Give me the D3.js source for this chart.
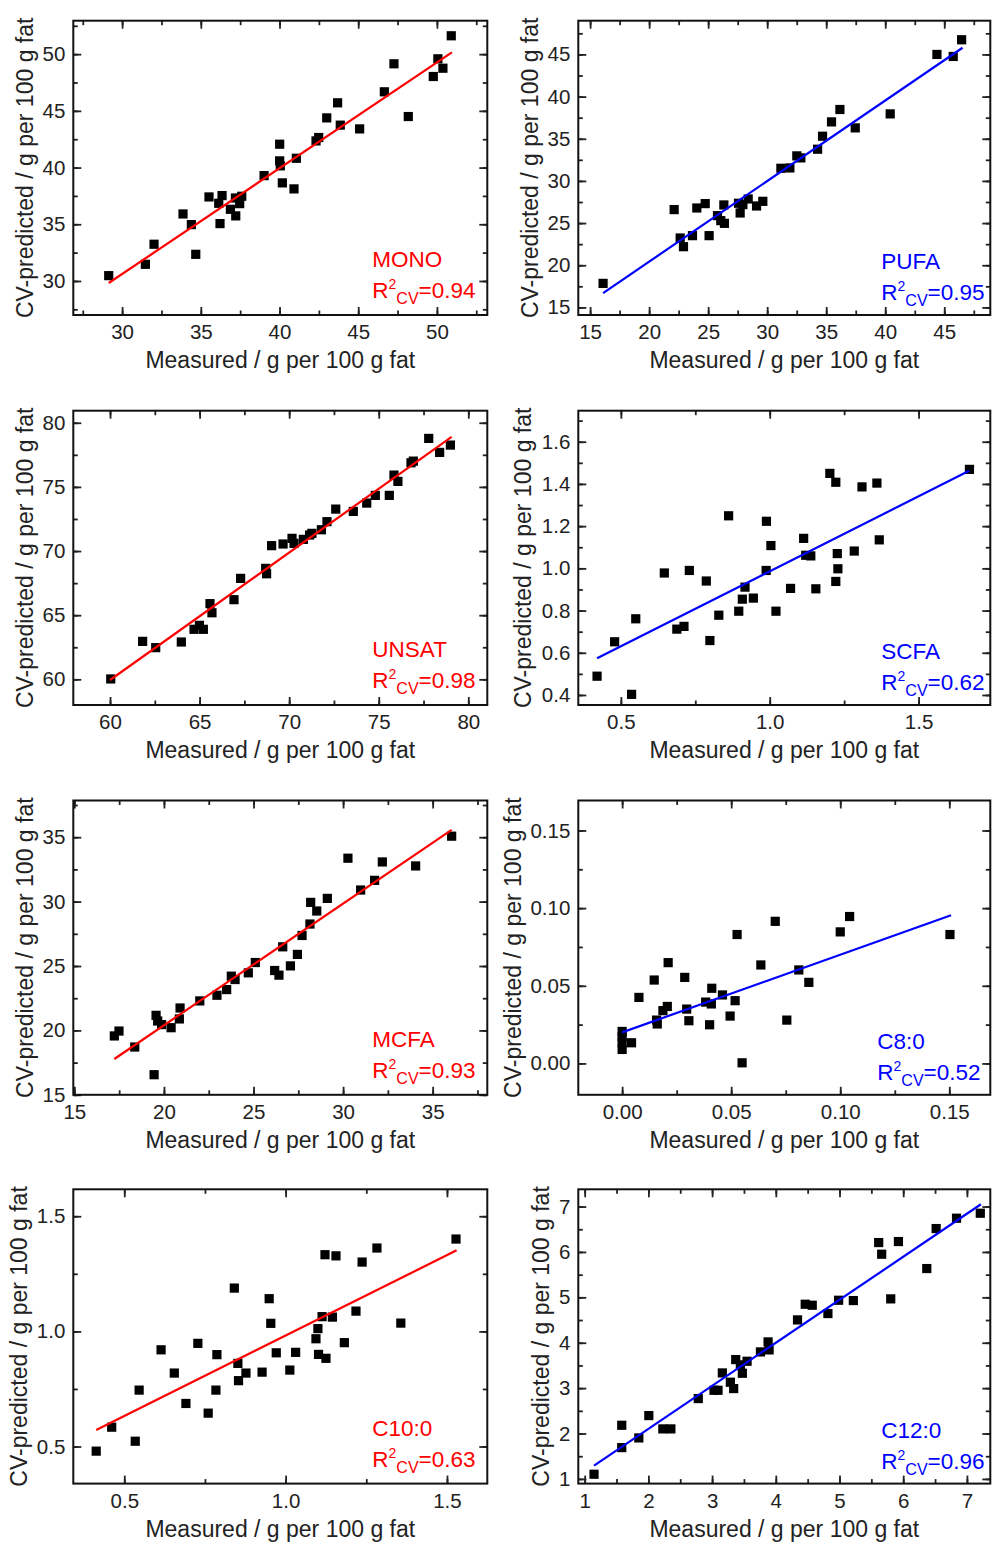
<!DOCTYPE html>
<html>
<head>
<meta charset="utf-8">
<script src="https://cdn.jsdelivr.net/npm/d3@7"></script>
<style>
  body { margin: 0; background: #fff; }
  svg text { font-family: Arial, "Liberation Sans", sans-serif; fill: #222; }
</style>
</head>
<body>
<div id="chart"></div>
<script>
// MONO
const monoX = [29.15, 31.48, 32.03, 33.87, 34.40, 34.68, 35.52, 36.14, 36.35, 36.22, 36.88, 37.22, 37.20, 37.47, 37.60, 39.02, 40.01, 40.01, 40.05, 40.18, 40.92, 41.07, 42.32, 42.49, 43.00, 43.69, 43.86, 45.09, 46.66, 47.27, 48.18, 49.77, 50.06, 50.38, 50.91];
const monoY = [30.47, 31.47, 33.24, 35.91, 34.97, 32.35, 37.41, 36.85, 37.53, 35.06, 36.32, 35.74, 37.32, 36.82, 37.47, 39.29, 42.06, 40.59, 40.15, 38.65, 38.12, 40.82, 42.35, 42.65, 44.38, 45.71, 43.74, 43.41, 46.68, 49.15, 44.50, 48.03, 49.59, 48.76, 51.62];
const monoFitX = [29.15, 50.95];
const monoFitY = [29.82, 50.15];

// PUFA
const pufaX = [16.1, 22.12, 22.63, 22.91, 23.67, 24.04, 24.75, 25.08, 25.79, 26.07, 26.33, 26.38, 27.57, 27.71, 27.94, 28.39, 29.1, 29.63, 31.16, 31.92, 32.51, 32.85, 34.27, 34.69, 35.45, 36.16, 37.46, 40.42, 44.38, 45.76, 46.47];
const pufaY = [17.85, 26.6, 23.23, 22.2, 23.51, 26.79, 27.31, 23.51, 25.88, 25.29, 27.15, 24.97, 27.35, 26.2, 27.19, 27.86, 27.03, 27.58, 31.5, 31.54, 32.97, 32.73, 33.76, 35.3, 37.0, 38.47, 36.29, 37.95, 45.0, 44.76, 46.74];
const pufaFitX = [16.1, 46.55];
const pufaFitY = [16.7, 45.79];

// UNSAT
const unsatX = [60.04, 61.82, 62.55, 63.98, 64.69, 64.99, 65.21, 65.58, 65.69, 66.92, 67.29, 68.69, 68.74, 69.02, 69.66, 70.16, 70.27, 70.79, 71.14, 71.27, 71.8, 72.11, 72.6, 73.58, 74.33, 74.81, 75.59, 75.85, 76.07, 76.8, 76.93, 77.79, 78.4, 79.0];
const unsatY = [60.03, 62.96, 62.47, 62.91, 63.9, 64.21, 63.9, 65.9, 65.19, 66.21, 67.87, 68.65, 68.23, 70.42, 70.55, 70.99, 70.6, 70.91, 71.25, 71.38, 71.66, 72.29, 73.27, 73.09, 73.74, 74.34, 74.34, 75.92, 75.43, 76.88, 77.01, 78.78, 77.69, 78.26];
const unsatFitX = [60.0, 79.07];
const unsatFitY = [59.95, 78.9];

// SCFA
const scfaX = [0.42, 0.479, 0.536, 0.55, 0.646, 0.688, 0.712, 0.73, 0.787, 0.799, 0.829, 0.862, 0.896, 0.908, 0.917, 0.945, 0.989, 0.988, 1.004, 1.021, 1.07, 1.114, 1.121, 1.138, 1.155, 1.202, 1.222, 1.222, 1.227, 1.229, 1.284, 1.31, 1.36, 1.368, 1.671];
const scfaY = [0.489, 0.652, 0.403, 0.761, 0.978, 0.712, 0.725, 0.99, 0.94, 0.658, 0.778, 1.249, 0.797, 0.854, 0.911, 0.859, 1.223, 0.99, 1.108, 0.797, 0.905, 1.142, 1.062, 1.059, 0.903, 1.45, 1.408, 0.938, 1.07, 0.998, 1.082, 1.386, 1.404, 1.135, 1.469];
const scfaFitX = [0.42, 1.67];
const scfaFitY = [0.574, 1.462];

// MCFA
const mcfaX = [17.23, 17.49, 18.37, 19.45, 19.56, 19.65, 19.87, 20.4, 20.86, 20.9, 22.0, 22.96, 23.5, 23.76, 23.97, 24.71, 25.1, 26.18, 26.42, 26.63, 27.06, 27.45, 27.71, 28.15, 28.19, 28.53, 29.12, 30.27, 30.98, 31.76, 32.19, 34.05, 36.06];
const mcfaY = [19.57, 19.95, 18.71, 16.56, 21.17, 20.73, 20.45, 20.21, 20.89, 21.74, 22.29, 22.73, 23.17, 24.21, 23.95, 24.47, 25.27, 24.65, 24.29, 26.49, 25.01, 25.9, 27.37, 28.26, 29.94, 29.27, 30.25, 33.37, 30.9, 31.65, 33.08, 32.77, 35.08];
const mcfaFitX = [17.23, 36.06];
const mcfaFitY = [17.78, 35.57];

// C8:0
const c8X = [0, 0, 0, 0, 0.0043, 0.0077, 0.0147, 0.0158, 0.0161, 0.0187, 0.0207, 0.0211, 0.0287, 0.0296, 0.0306, 0.0383, 0.0401, 0.0409, 0.0411, 0.046, 0.0495, 0.0518, 0.0527, 0.055, 0.0636, 0.0702, 0.0755, 0.081, 0.0856, 0.1, 0.1043, 0.1503];
const c8Y = [0.0206, 0.0172, 0.0133, 0.009, 0.0133, 0.0425, 0.0537, 0.0279, 0.0254, 0.034, 0.0367, 0.0649, 0.0554, 0.035, 0.0275, 0.0395, 0.0249, 0.0383, 0.0484, 0.0441, 0.0305, 0.0404, 0.083, 0.0004, 0.0634, 0.0915, 0.0279, 0.0602, 0.0522, 0.0847, 0.0946, 0.083];
const c8FitX = [0, 0.1508];
const c8FitY = [0.02, 0.0954];

// C10:0
const c10X = [0.413, 0.461, 0.534, 0.546, 0.614, 0.655, 0.691, 0.728, 0.76, 0.784, 0.787, 0.841, 0.852, 0.854, 0.877, 0.927, 0.949, 0.954, 0.971, 1.013, 1.031, 1.094, 1.1, 1.102, 1.113, 1.122, 1.125, 1.145, 1.156, 1.182, 1.218, 1.237, 1.283, 1.357, 1.528];
const c10Y = [0.48, 0.584, 0.523, 0.745, 0.92, 0.819, 0.687, 0.948, 0.645, 0.745, 0.899, 1.188, 0.861, 0.786, 0.819, 0.823, 1.142, 1.035, 0.907, 0.832, 0.909, 0.968, 1.012, 0.9, 1.064, 1.333, 0.883, 1.062, 1.328, 0.951, 1.088, 1.301, 1.362, 1.036, 1.401];
const c10FitX = [0.413, 1.53];
const c10FitY = [0.572, 1.352];

// C12:0
const c12X = [1.147, 1.582, 1.582, 1.85, 2.007, 2.227, 2.353, 2.783, 3.03, 3.093, 3.161, 3.287, 3.339, 3.371, 3.444, 3.475, 3.549, 3.759, 3.879, 3.895, 4.341, 4.462, 4.572, 4.818, 4.986, 5.217, 5.615, 5.662, 5.804, 5.925, 6.37, 6.517, 6.837, 7.21];
const c12Y = [1.103, 2.182, 1.69, 1.903, 2.395, 2.102, 2.102, 2.77, 2.953, 2.953, 3.335, 3.13, 2.99, 3.629, 3.512, 3.328, 3.592, 3.798, 4.018, 3.842, 4.503, 4.848, 4.826, 4.643, 4.936, 4.929, 6.207, 5.95, 4.966, 6.229, 5.634, 6.515, 6.743, 6.853];
const c12FitX = [1.147, 7.22];
const c12FitY = [1.294, 7.05];

// tick values and labels
const ticks5a = [30, 35, 40, 45, 50];
const ticks5aLabels = ["30", "35", "40", "45", "50"];
const ticks15to45 = [15, 20, 25, 30, 35, 40, 45];
const ticks15to45Labels = ["15", "20", "25", "30", "35", "40", "45"];
const ticks60to80 = [60, 65, 70, 75, 80];
const ticks60to80Labels = ["60", "65", "70", "75", "80"];
const ticksHalf = [0.5, 1.0, 1.5];
const ticksHalfLabels = ["0.5", "1.0", "1.5"];
const scfaYTicks = [0.4, 0.6, 0.8, 1.0, 1.2, 1.4, 1.6];
const scfaYLabels = ["0.4", "0.6", "0.8", "1.0", "1.2", "1.4", "1.6"];
const ticks15to35 = [15, 20, 25, 30, 35];
const ticks15to35Labels = ["15", "20", "25", "30", "35"];
const ticksC8 = [0, 0.05, 0.10, 0.15];
const ticksC8Labels = ["0.00", "0.05", "0.10", "0.15"];
const ticks1to7 = [1, 2, 3, 4, 5, 6, 7];
const ticks1to7Labels = ["1", "2", "3", "4", "5", "6", "7"];

const RED = "#ff0000";
const BLUE = "#0000ff";

const colX = [73.3, 578.3];
const colW = [414, 412];
const rowY = [20.7, 410.7, 800.5, 1189.3];
const plotH = 294.3;

// titleOff: distance of the rotated y title from the frame (depends on tick label width)
const panels = [
  { row: 0, col: 0, name: "MONO", r2: "0.94", color: RED, xs: monoX, ys: monoY, fx: monoFitX, fy: monoFitY,
    xd: [26.9, 53.2], yd: [27, 52.95], xt: ticks5a, xl: ticks5aLabels, yt: ticks5a, yl: ticks5aLabels, xm: 2.5, ym: 2.5, annX: 299, titleOff: 40 },
  { row: 0, col: 1, name: "PUFA", r2: "0.95", color: BLUE, xs: pufaX, ys: pufaY, fx: pufaFitX, fy: pufaFitY,
    xd: [14, 48.9], yd: [14.1, 49], xt: ticks15to45, xl: ticks15to45Labels, yt: ticks15to45, yl: ticks15to45Labels, xm: 2.5, ym: 2.5, annX: 303, titleOff: 40 },
  { row: 1, col: 0, name: "UNSAT", r2: "0.98", color: RED, xs: unsatX, ys: unsatY, fx: unsatFitX, fy: unsatFitY,
    xd: [57.95, 81.06], yd: [58, 80.94], xt: ticks60to80, xl: ticks60to80Labels, yt: ticks60to80, yl: ticks60to80Labels, xm: 2.5, ym: 2.5, annX: 299, titleOff: 40 },
  { row: 1, col: 1, name: "SCFA", r2: "0.62", color: BLUE, xs: scfaX, ys: scfaY, fx: scfaFitX, fy: scfaFitY,
    xd: [0.357, 1.741], yd: [0.3525, 1.747], xt: ticksHalf, xl: ticksHalfLabels, yt: scfaYTicks, yl: scfaYLabels, xm: 0.25, ym: 0.1, annX: 303, titleOff: 47 },
  { row: 2, col: 0, name: "MCFA", r2: "0.93", color: RED, xs: mcfaX, ys: mcfaY, fx: mcfaFitX, fy: mcfaFitY,
    xd: [14.94, 38.05], yd: [15, 37.85], xt: ticks15to35, xl: ticks15to35Labels, yt: ticks15to35, yl: ticks15to35Labels, xm: 2.5, ym: 2.5, annX: 299, titleOff: 40 },
  { row: 2, col: 1, name: "C8:0", r2: "0.52", color: BLUE, xs: c8X, ys: c8Y, fx: c8FitX, fy: c8FitY,
    xd: [-0.0201, 0.1688], yd: [-0.0202, 0.1693], xt: ticksC8, xl: ticksC8Labels, yt: ticksC8, yl: ticksC8Labels, xm: 0.025, ym: 0.025, annX: 299, titleOff: 57 },
  { row: 3, col: 0, name: "C10:0", r2: "0.63", color: RED, xs: c10X, ys: c10Y, fx: c10FitX, fy: c10FitY,
    xd: [0.342, 1.625], yd: [0.339, 1.617], xt: ticksHalf, xl: ticksHalfLabels, yt: ticksHalf, yl: ticksHalfLabels, xm: 0.25, ym: 0.25, annX: 299, titleOff: 46 },
  { row: 3, col: 1, name: "C12:0", r2: "0.96", color: BLUE, xs: c12X, ys: c12Y, fx: c12FitX, fy: c12FitY,
    xd: [0.9, 7.367], yd: [0.897, 7.38], xt: ticks1to7, xl: ticks1to7Labels, yt: ticks1to7, yl: ticks1to7Labels, xm: 0.5, ym: 0.5, annX: 303, titleOff: 29 }
];

const svg = d3.select("#chart").append("svg")
  .attr("width", 993)
  .attr("height", 1546);

// minor tick positions between domain ends
function minorTicks(domain, step) {
  const out = [];
  const start = Math.ceil(domain[0] / step - 1e-9);
  const end = Math.floor(domain[1] / step + 1e-9);
  for (let i = start; i <= end; i++) out.push(+(i * step).toFixed(6));
  return out;
}

function styleAxis(g) {
  g.select(".domain").remove();
  g.selectAll(".tick line").attr("stroke", "#222").attr("stroke-width", 1.8);
  g.selectAll(".tick text").attr("fill", "#222").style("font-size", "20.5px")
    .style("font-family", "Arial, 'Liberation Sans', sans-serif");
}

function drawPanel(p) {
  const w = colW[p.col];
  const h = plotH;
  const g = svg.append("g").attr("transform", `translate(${colX[p.col]},${rowY[p.row]})`);

  const x = d3.scaleLinear().domain(p.xd).range([0, w]);
  const y = d3.scaleLinear().domain(p.yd).range([h, 0]);

  const xMin = minorTicks(p.xd, p.xm);
  const yMin = minorTicks(p.yd, p.ym);

  // minor ticks (all sides, inward)
  g.append("g").attr("transform", `translate(0,${h})`)
    .call(d3.axisBottom(x).tickValues(xMin).tickSize(-4.5).tickFormat("")).call(styleAxis);
  g.append("g")
    .call(d3.axisTop(x).tickValues(xMin).tickSize(-4.5).tickFormat("")).call(styleAxis);
  g.append("g")
    .call(d3.axisLeft(y).tickValues(yMin).tickSize(-4.5).tickFormat("")).call(styleAxis);
  g.append("g").attr("transform", `translate(${w},0)`)
    .call(d3.axisRight(y).tickValues(yMin).tickSize(-4.5).tickFormat("")).call(styleAxis);

  // major ticks
  g.append("g").attr("transform", `translate(0,${h})`)
    .call(d3.axisBottom(x).tickValues(p.xt).tickSize(-8).tickPadding(9.5)
      .tickFormat((d, i) => p.xl[i])).call(styleAxis);
  g.append("g")
    .call(d3.axisTop(x).tickValues(p.xt).tickSize(-8).tickFormat("")).call(styleAxis);
  g.append("g")
    .call(d3.axisLeft(y).tickValues(p.yt).tickSize(-8).tickPadding(8)
      .tickFormat((d, i) => p.yl[i])).call(styleAxis);
  g.append("g").attr("transform", `translate(${w},0)`)
    .call(d3.axisRight(y).tickValues(p.yt).tickSize(-8).tickFormat("")).call(styleAxis);

  // frame
  g.append("rect")
    .attr("width", w).attr("height", h)
    .attr("fill", "none").attr("stroke", "#111").attr("stroke-width", 2);

  // points
  const pts = p.xs.map((v, i) => [v, p.ys[i]]);
  g.append("g").selectAll("rect")
    .data(pts)
    .enter()
    .append("rect")
    .attr("x", d => x(d[0]) - 4.6)
    .attr("y", d => y(d[1]) - 4.6)
    .attr("width", 9.2)
    .attr("height", 9.2)
    .attr("fill", "#000");

  // fit line
  const fit = p.fx.map((v, i) => [v, p.fy[i]]);
  g.append("path")
    .datum(fit)
    .attr("fill", "none")
    .attr("stroke", p.color)
    .attr("stroke-width", 2.2)
    .attr("d", d3.line().x(d => x(d[0])).y(d => y(d[1])));

  // annotation
  const by = p.col === 0 ? 48 : 46;
  const by2 = p.col === 0 ? 17 : 14.5;
  g.append("text")
    .attr("x", p.annX).attr("y", h - by)
    .style("font-size", "22.5px").style("fill", p.color)
    .text(p.name);
  const t = g.append("text")
    .attr("x", p.annX).attr("y", h - by2)
    .style("font-size", "22.5px").style("fill", p.color);
  t.append("tspan").text("R");
  t.append("tspan").attr("dy", -9).style("font-size", "14px").text("2");
  t.append("tspan").attr("dy", 15).style("font-size", "16px").text("CV");
  t.append("tspan").attr("dy", -6).text("=" + p.r2);

  // axis titles
  g.append("text")
    .attr("x", w / 2).attr("y", h + 53)
    .attr("text-anchor", "middle")
    .style("font-size", "23px")
    .text("Measured / g per 100 g fat");
  g.append("text")
    .attr("transform", "rotate(-90)")
    .attr("x", -h / 2).attr("y", -p.titleOff)
    .attr("text-anchor", "middle")
    .style("font-size", "23px")
    .text("CV-predicted / g per 100 g fat");
}

panels.forEach(drawPanel);
</script>
</body>
</html>
